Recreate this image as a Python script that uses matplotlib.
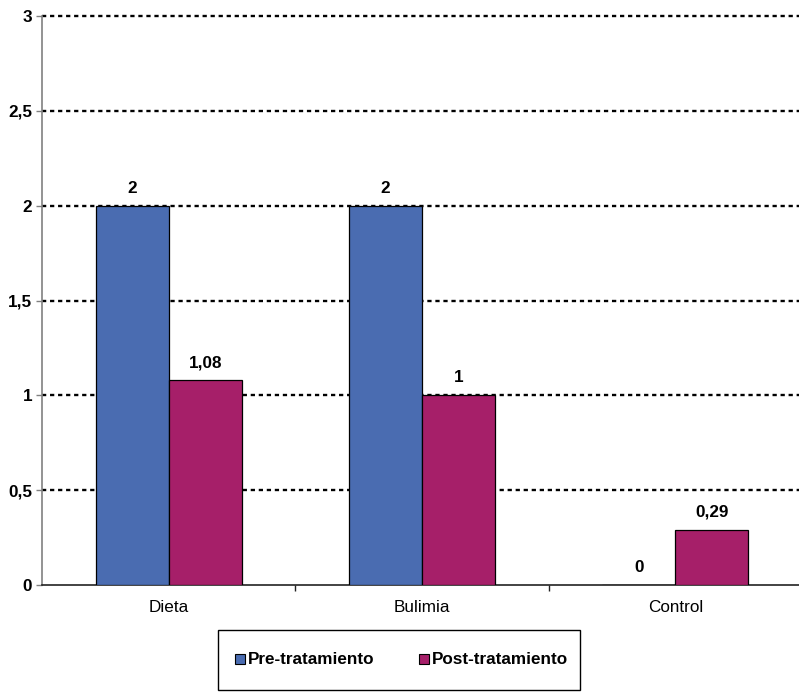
import matplotlib
matplotlib.use("Agg")
import matplotlib.pyplot as plt
import numpy as np
from matplotlib.patches import Rectangle
from matplotlib.lines import Line2D

plt.rcParams['font.family'] = ['Liberation Sans', 'DejaVu Sans']

categories = ["Dieta", "Bulimia", "Control"]
series_names = ["Pre-tratamiento", "Post-tratamiento"]
pre_values = [2, 2, 0]
post_values = [1.08, 1, 0.29]
y_ticks = [0, 0.5, 1, 1.5, 2, 2.5, 3]
y_tick_labels = ["0", "0,5", "1", "1,5", "2", "2,5", "3"]

colors = ["#4A6CB1", "#A61F69"]

W, H = 799, 692
fig = plt.figure(figsize=(W / 100, H / 100), dpi=100)
ax = fig.add_axes([42 / W, 1 - 585 / H, 757 / W, 569 / H])

x = np.arange(len(categories))
bw = 0.288


def fmt(v):
    s = f"{v:g}"
    return s.replace(".", ",")


for i, (vals, col) in enumerate(zip([pre_values, post_values], colors)):
    offs = -bw / 2 if i == 0 else bw / 2
    ax.bar(x + offs, vals, width=bw, color=col, edgecolor="black",
           linewidth=0.9, zorder=3)
    for xi, v in zip(x + offs, vals):
        ax.annotate(fmt(v), (xi, v), xytext=(0, 13), textcoords="offset pixels",
                    ha="center", va="baseline", fontsize=12.3, fontweight="bold")

ax.set_xlim(-0.5, 2.5 - 0.012)
ax.set_ylim(0, 3)
ax.set_yticks(y_ticks)
ax.set_yticklabels(y_tick_labels, fontsize=12.3, fontweight="bold")

# dotted horizontal guides (skip the baseline, which the bottom spine draws)
for yv in y_ticks[1:]:
    ax.axhline(yv, linestyle=(0, (1.8, 1.6)), color="black", linewidth=1.7,
               zorder=0, clip_on=False)

ax.set_xticks([0.5, 1.5])
ax.set_xticklabels([])
ax.tick_params(axis="x", direction="out", length=4, width=1, color="#222222")
ax.tick_params(axis="y", direction="out", length=4, width=1, color="#808080", pad=3)
for xi, c in zip(x, categories):
    ax.annotate(c, (xi, 0), xycoords=("data", "axes fraction"),
                xytext=(0, -15), textcoords="offset pixels",
                ha="center", va="top", fontsize=12.3)

for s in ["top", "right"]:
    ax.spines[s].set_visible(False)
ax.spines["left"].set_color("#808080")
ax.spines["left"].set_linewidth(1.2)
ax.spines["bottom"].set_color("#222222")
ax.spines["bottom"].set_linewidth(1.2)

# legend box
fig.patches.append(Rectangle((218 / W, 1 - 690 / H), 362 / W, 60 / H,
                             transform=fig.transFigure, fill=False,
                             edgecolor="black", linewidth=1.0))
handles = [Line2D([], [], marker="s", linestyle="none", markersize=7.5,
                  markerfacecolor=c, markeredgecolor="black", markeredgewidth=0.8)
           for c in colors]
fig.legend(handles, series_names, loc="center", bbox_to_anchor=(401 / W, 1 - 660 / H),
           ncol=2, frameon=False, prop={"weight": "bold", "size": 12.3},
           handlelength=0.7, handletextpad=0.15, columnspacing=2.5)

fig.savefig("out.png", dpi=100)
